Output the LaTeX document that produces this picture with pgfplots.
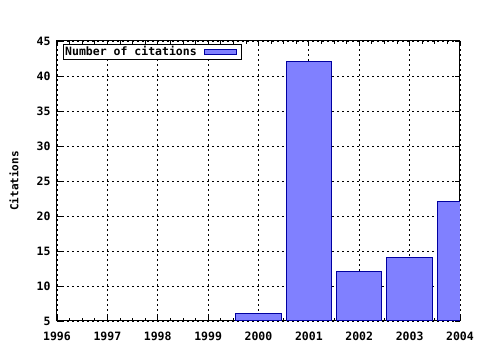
\documentclass[border=0pt]{standalone}
\usepackage{fontspec}
\setmainfont{DejaVu Sans Mono}
\setmonofont{DejaVu Sans Mono}
\usepackage{pgfplots}
\pgfplotsset{compat=1.18}
\definecolor{barfill}{RGB}{128,128,255}
\definecolor{baredge}{RGB}{0,0,160}
\pgfplotsset{
  boxlegend/.style={legend image code/.code={\path (0pt,0pt) (42pt,0pt); \draw[##1] (6pt,-2.5pt) rectangle (38pt,2.5pt);}}
}
\begin{document}
\begin{tikzpicture}[x=1pt,y=1pt]
\useasboundingbox (-57,-29) rectangle (423,321);
\begin{axis}[
  at={(0,0)}, anchor=south west,
  scale only axis, width=403pt, height=280pt,
  ybar, bar width=0.9,
  xmin=1996, xmax=2004, ymin=5, ymax=45,
  xtick={1996,1997,1998,1999,2000,2001,2002,2003,2004},
  xticklabels={1996,1997,1998,1999,2000,2001,2002,2003,2004},
  ytick={5,10,15,20,25,30,35,40,45},
  minor x tick num=3,
  grid=major,
  major grid style={black, dash pattern=on 2pt off 3pt, line width=0.8pt},
  axis line style={black, line width=1pt},
  tick style={black, line width=0.8pt},
  major tick length=5pt, minor tick length=3pt,
  tick align=inside,
  ticklabel style={font=\fontsize{11.5}{12}\selectfont\bfseries},
  xticklabel style={yshift=-7pt, text height=8.5pt, text depth=0pt, anchor=north},
  yticklabel style={xshift=-3pt},
  /pgf/number format/assume math mode=true,
  ylabel={Citations},
  ylabel style={font=\fontsize{11}{12}\selectfont\bfseries, at={(axis description cs:-0.1067,0.5)}, anchor=center},
  legend plot pos=right,
  legend style={at={(axis description cs:0.0149,0.989)}, anchor=north west, draw=black, line width=0.8pt,
    inner sep=0.3pt, font=\fontsize{11.5}{11}\selectfont\bfseries, legend cell align=left,
    nodes={inner sep=1.5pt}},
  clip=true,
]
\addplot[fill=barfill, draw=baredge, line width=1pt, boxlegend]
  coordinates {(2000,6) (2001,42) (2002,12) (2003,14) (2004,22)};
\addlegendentry{Number of citations}
\end{axis}
\end{tikzpicture}
\end{document}
